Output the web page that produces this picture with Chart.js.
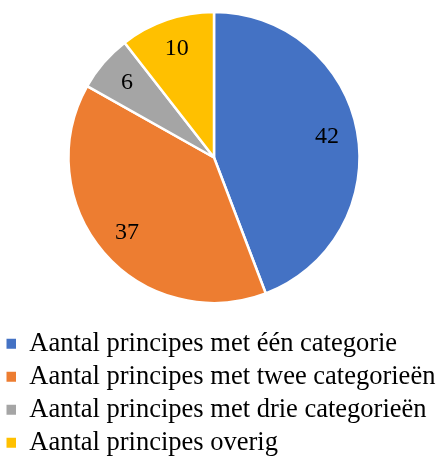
<!DOCTYPE html>
<html lang="nl">
<head>
  <meta charset="UTF-8" />
  <title>Aantal principes</title>
  <script src="https://cdn.jsdelivr.net/npm/chart.js@4.4.1/dist/chart.umd.min.js"></script>
  <style>
    html, body { margin: 0; padding: 0; background: #fff; overflow: hidden; }
    #box { position: relative; width: 441px; height: 458px; }
  </style>
</head>
<body>
  <div id="box">
    <canvas id="principes"></canvas>
  </div>

  <script>
    const labels = [
      'Aantal principes met één categorie',
      'Aantal principes met twee categorieën',
      'Aantal principes met drie categorieën',
      'Aantal principes overig'
    ];
    const values = [42, 37, 6, 10];
    const colors = ['#4472C4', '#ED7D31', '#A5A5A5', '#FFC000'];

    const serif = "'Liberation Serif', 'Times New Roman', serif";

    // taart iets naar links en omhoog, legenda houdt de volle breedte
    const pieArea = {
      id: 'pieArea',
      afterLayout(chart) {
        const a = chart.chartArea;
        a.right -= 13;
        a.bottom -= 9;
        a.width = a.right - a.left;
        a.height = a.bottom - a.top;
      }
    };

    // getallen in de taartpunten
    const sliceLabels = {
      id: 'sliceLabels',
      afterDatasetsDraw(chart) {
        const ctx = chart.ctx;
        const meta = chart.getDatasetMeta(0);
        ctx.save();
        ctx.font = '24px ' + serif;
        ctx.fillStyle = '#000';
        ctx.textAlign = 'center';
        ctx.textBaseline = 'middle';
        meta.data.forEach((arc, i) => {
          const p = arc.getProps(['x', 'y', 'startAngle', 'endAngle', 'outerRadius'], true);
          const mid = (p.startAngle + p.endAngle) / 2;
          const r = p.outerRadius * 0.79;
          ctx.fillText(String(values[i]), p.x + Math.cos(mid) * r, p.y + Math.sin(mid) * r);
        });
        ctx.restore();
      }
    };

    const ch = new Chart(document.getElementById('principes'), {
      type: 'pie',
      data: {
        labels: labels,
        datasets: [{
          data: values,
          backgroundColor: colors,
          borderColor: '#fff',
          borderWidth: 2.5
        }]
      },
      options: {
        responsive: true,
        maintainAspectRatio: false,
        animation: false,
        radius: 145.5,
        plugins: {
          tooltip: { enabled: false },
          legend: {
            position: 'bottom',
            align: 'start',
            maxHeight: 134,
            labels: {
              color: '#000',
              font: { family: serif, size: 26.5 },
              boxWidth: 9.5,
              boxHeight: 10,
              padding: 6.5,
              generateLabels: (chart) =>
                Chart.overrides.pie.plugins.legend.labels.generateLabels(chart)
                  .map(l => Object.assign(l, { lineWidth: 0 }))
            }
          }
        }
      },
      plugins: [pieArea, sliceLabels]
    });
  </script>
</body>
</html>
